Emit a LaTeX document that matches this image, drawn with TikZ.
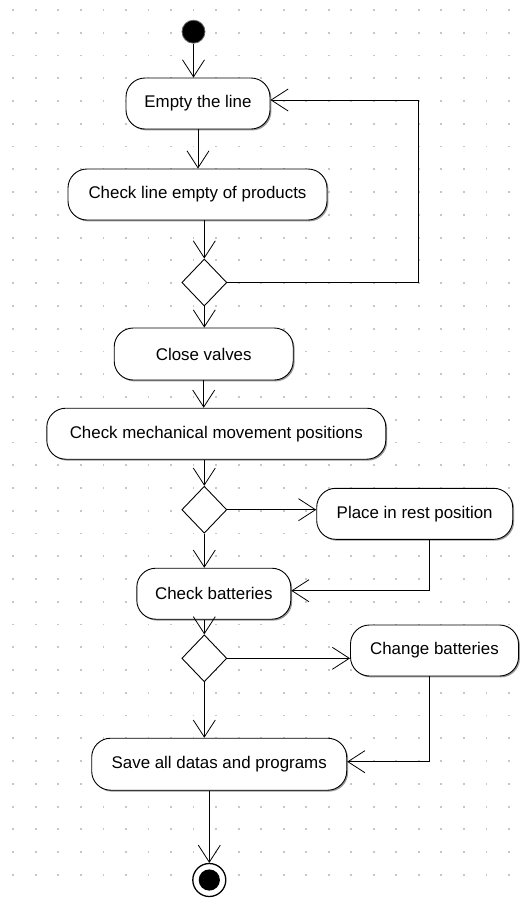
\documentclass[tikz,border=0pt]{standalone}
\usepackage{fontspec}
\setmainfont{Liberation Sans}
\usetikzlibrary{arrows.meta,shapes.geometric,shadows}

\tikzset{
  action/.style={rectangle, rounded corners=19pt, draw, fill=white, line width=0.9pt,
    inner sep=0pt, font=\fontsize{16.9}{19}\selectfont,
    drop shadow={shadow xshift=1.4pt, shadow yshift=-1.4pt, fill=black!40, opacity=1}},
  decision/.style={diamond, draw, fill=white, line width=0.9pt, inner sep=0pt,
    minimum width=45pt, minimum height=47pt},
  flow/.style={line width=0.9pt, -{Straight Barb[length=17pt, width=22pt, line width=0.8pt]}},
  griddot/.style={fill=black!22}
}

\begin{document}
\begin{tikzpicture}[x=1pt, y=-1pt]
  \useasboundingbox (0,0) rectangle (522,922);
  \fill[white] (0,0) rectangle (522,922);

  % background dot grid
  \foreach \i in {0,...,22} {
    \foreach \j in {0,...,38} {
      \fill[griddot] ({13.3+22.53*\i-0.9},{10+22.76*\j-0.9}) rectangle ++(1.8,1.8);
    }
  }

  % initial and final states
  \node[circle, fill=black, draw=black!60, line width=0.8pt, minimum size=23pt, inner sep=0pt] (start) at (193.5,31.7) {};
  \node[circle, draw, fill=white, line width=1.3pt, minimum size=33pt, inner sep=0pt] (final) at (209.3,880) {};
  \fill (final) circle (10.6pt);

  % actions
  \node[action, minimum width=144pt, minimum height=51pt] (empty) at (198,103.5) {Empty the line};
  \node[action, minimum width=259pt, minimum height=51pt] (checkline) at (197.5,194.5) {Check line empty of products};
  \node[decision] (d1) at (204.3,282.5) {};
  \node[action, minimum width=179pt, minimum height=52pt] (valves) at (203.7,354) {Close valves};
  \node[action, minimum width=339pt, minimum height=51pt] (mech) at (216.3,433.7) {Check mechanical movement positions};
  \node[decision] (d2) at (204.3,509.7) {};
  \node[action, minimum width=196pt, minimum height=51pt] (rest) at (414.7,513.8) {Place in rest position};
  \node[action, minimum width=154pt, minimum height=51pt] (batt) at (213.8,593.7) {Check batteries};
  \node[decision] (d3) at (204.3,658.3) {};
  \node[action, minimum width=168pt, minimum height=51pt] (change) at (434.5,650.5) {Change batteries};
  \node[action, minimum width=255pt, minimum height=52pt] (save) at (219.2,764.2) {Save all datas and programs};

  % bend points of the return paths
  \coordinate (loop) at (418,100);
  \coordinate (r1) at (429.3,590.7);
  \coordinate (r2) at (429.3,761.7);

  % control flow
  \draw[flow] (start) -- (start |- empty.north);
  \draw[flow] (empty.south) -- (empty.south |- checkline.north);
  \draw[flow] (d1.north |- checkline.south) -- (d1.north);
  \draw[flow] (d1.east) -| (loop) -- (loop -| empty.east);
  \draw[flow] (d1.south) -- (d1.south |- valves.north);
  \draw[flow] (valves.south) -- (valves.south |- mech.north);
  \draw[flow] (d2.north |- mech.south) -- (d2.north);
  \draw[flow] (d2.east) -- (d2.east -| rest.west);
  \draw[flow] (d2.south) -- (d2.south |- batt.north);
  \draw[flow] (r1 |- rest.south) -- (r1) -- (r1 -| batt.east);
  \draw[flow] (d3.north |- batt.south) -- (d3.north);
  \draw[flow] (d3.east) -- (d3.east -| change.west);
  \draw[flow] (d3.south) -- (d3.south |- save.north);
  \draw[flow] (r2 |- change.south) -- (r2) -- (r2 -| save.east);
  \draw[flow] (final.north |- save.south) -- (final.north);
\end{tikzpicture}
\end{document}
